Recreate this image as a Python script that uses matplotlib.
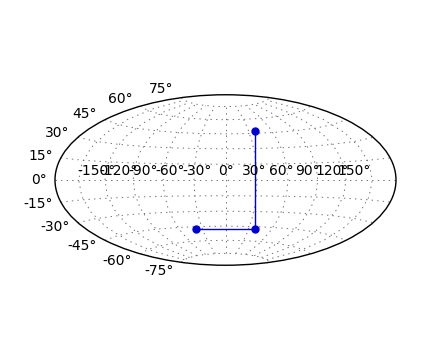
import numpy as np
import matplotlib
matplotlib.use("Agg")
import matplotlib.pyplot as plt
from matplotlib.projections import register_projection
from matplotlib.projections.geo import HammerAxes

# data (degrees)
lon_deg = [-38.4, 38.4, 38.4]
lat_deg = [-47.5, -47.5, 47.5]

# longitude tick labels
lon_ticks = [-150, -120, -90, -60, -30, 0, 30, 60, 90, 120, 150]
lon_labels = [f"{t}\N{DEGREE SIGN}" for t in lon_ticks]


class CoarseHammerAxes(HammerAxes):
    name = 'coarse_hammer'
    RESOLUTION = 12


register_projection(CoarseHammerAxes)

plt.rcParams['font.family'] = ['DejaVu Sans']
plt.rcParams['font.size'] = 10
plt.rcParams['lines.scale_dashes'] = False

fig = plt.figure(figsize=(4.4, 3.6), dpi=100)
ax = fig.add_subplot(111, projection='coarse_hammer')
fig.subplots_adjust(left=0.125, right=0.9, bottom=0.1, top=0.9)

ax.grid(True, color='0.45', linestyle=(0, (1, 3)), linewidth=0.7)
ax.tick_params(axis='x', labelbottom=False, labeltop=False)

# longitude labels just above the equator
to_axes = ax.transAxes.inverted()
label_lat = np.radians(30)
for t, lab in zip(lon_ticks, lon_labels):
    xd = ax.transData.transform((np.radians(t), label_lat))[0]
    yd = ax.transData.transform((np.radians(t), 0.0))[1] + 4
    xa, ya = to_axes.transform((xd, yd))
    ax.text(xa, ya, lab, transform=ax.transAxes, ha='center', va='bottom',
            fontsize=10)

# straight segments between points (no path interpolation)
straight = HammerAxes.HammerTransform(1) + ax.transAffine + ax.transAxes
ax.plot(np.radians(lon_deg), np.radians(lat_deg), color='#0000cd', marker='o',
        markersize=5, linewidth=1, transform=straight)

for sp in ax.spines.values():
    sp.set_linewidth(1.0)

fig.savefig("out.png", dpi=100)
